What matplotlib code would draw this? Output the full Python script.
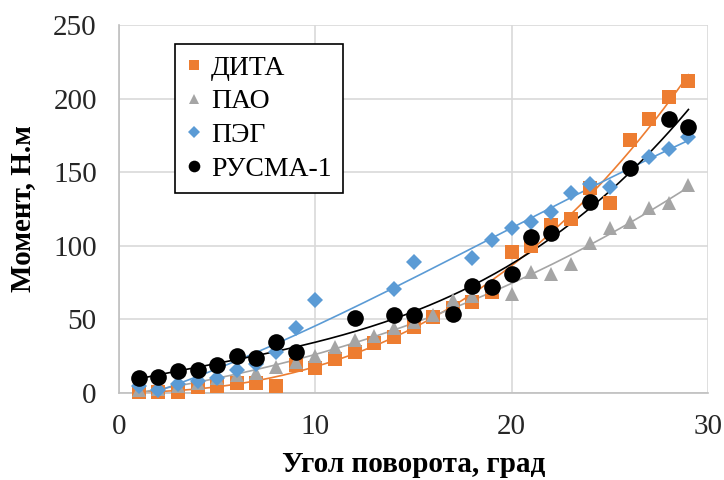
import numpy as np
import matplotlib.pyplot as plt

plt.rcParams['font.family'] = ['Liberation Serif', 'DejaVu Serif']

# ДИТА
x_dita = list(range(1, 30))
y_dita = [1, 1, 1, 4, 5, 7, 7, 5, 19, 17, 23, 28, 34, 38, 45, 52, 58, 62, 69,
          96, 100, 114, 118, 139, 129, 172, 186, 201, 212]
# ПАО
x_pao = list(range(1, 30))
y_pao = [2, 3, 5, 7, 10, 12, 14, 18, 21, 25, 31, 36, 39, 44, 48, 53, 63, 66, 72,
         67, 82, 81, 88, 102, 112, 116, 126, 129, 141]
# ПЭГ
x_peg = [1, 2, 3, 4, 5, 6, 7, 8, 9, 10, 14, 15, 18, 19, 20, 21, 22, 23, 24, 25,
         26, 27, 28, 29]
y_peg = [5, 2, 6, 8, 10, 16, 20, 28, 44, 63, 71, 89, 92, 104, 112, 116, 123, 136,
         142, 140, 152, 160, 166, 174]
# РУСМА-1
x_rusma = [1, 2, 3, 4, 5, 6, 7, 8, 9, 12, 14, 15, 17, 18, 19, 20, 21, 22, 24, 26,
           28, 29]
y_rusma = [10, 11, 15, 16, 19, 25, 24, 35, 28, 51, 53, 53, 54, 73, 72, 81, 106, 109,
           130, 153, 186, 181]

series = [
    ("ДИТА", x_dita, y_dita, '#ED7D31', 's', 10, 4),
    ("ПАО", x_pao, y_pao, '#A5A5A5', '^', 10, 3),
    ("ПЭГ", x_peg, y_peg, '#5B9BD5', 'D', 8.5, 3),
    ("РУСМА-1", x_rusma, y_rusma, 'black', 'o', 12, 3),
]

fig = plt.figure(figsize=(7.24, 4.8), dpi=100)
ax = fig.add_axes([0.1644, 0.181, 0.8136, 0.767])

for name, xs, ys, col, mk, ms, deg in series:
    ax.plot(xs, ys, linestyle='none', marker=mk, markersize=ms, color=col,
            markeredgewidth=0, label=name, clip_on=False, zorder=3)
    # polynomial trendline
    c = np.polyfit(xs, ys, deg)
    xf = np.linspace(min(xs), max(xs), 200)
    ax.plot(xf, np.polyval(c, xf), color=col, lw=1.2, zorder=2)

ax.set_xlim(0, 30)
ax.set_ylim(0, 250)
ax.set_xticks([0, 10, 20, 30])
ax.set_yticks([0, 50, 100, 150, 200, 250])
ax.grid(True, color='#D9D9D9', lw=1.2, zorder=0)
ax.set_axisbelow(True)
for s in ['top', 'right']:
    ax.spines[s].set_visible(False)
for s in ['left', 'bottom']:
    ax.spines[s].set_color('#BFBFBF')
    ax.spines[s].set_linewidth(1.2)
ax.tick_params(length=0, labelsize=21, colors='#262626')
ax.tick_params(axis='y', pad=16)
ax.tick_params(axis='x', pad=15)

ax.set_xlabel("Угол поворота, град", fontsize=21, fontweight='bold', labelpad=8)
ax.set_ylabel("Момент, Н.м", fontsize=21, fontweight='bold', labelpad=12)

leg = ax.legend(loc='upper left', bbox_to_anchor=(0.095, 0.948), fontsize=20,
                frameon=True, fancybox=False, edgecolor='black', framealpha=1,
                handlelength=0.6, handletextpad=0.3, labelspacing=0.3,
                borderpad=0.4, borderaxespad=0, markerscale=0.7)
leg.get_frame().set_linewidth(1.2)

plt.savefig("out.png", dpi=100)
